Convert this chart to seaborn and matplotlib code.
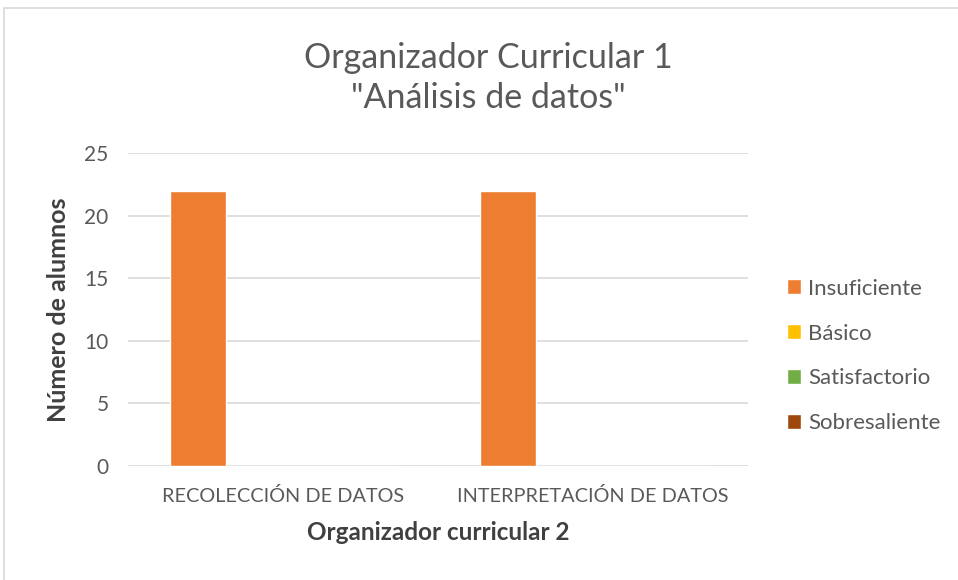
import matplotlib
matplotlib.use("Agg")
import matplotlib.pyplot as plt
import seaborn as sns
import pandas as pd
from matplotlib.patches import Rectangle

categories = ["RECOLECCIÓN DE DATOS", "INTERPRETACIÓN DE DATOS"]
series = ["Insuficiente", "Básico", "Satisfactorio", "Sobresaliente"]
values = {
    "Insuficiente": [22, 22],
    "Básico": [0, 0],
    "Satisfactorio": [0, 0],
    "Sobresaliente": [0, 0],
}
colors = ["#ED7D31", "#FFC000", "#70AD47", "#9E480E"]
yticks = [0, 5, 10, 15, 20, 25]

rows = []
for s in series:
    for c, v in zip(categories, values[s]):
        rows.append({"cat": c, "serie": s, "val": v})
df = pd.DataFrame(rows)

sns.set_theme(style="white")
plt.rcParams["font.family"] = ["Lato", "DejaVu Sans"]

fig = plt.figure(figsize=(9.58, 5.8), dpi=100)
ax = fig.add_axes([128/958, 1-466/580, (748-128)/958, (466-153)/580])

sns.barplot(data=df, x="cat", y="val", hue="serie", hue_order=series,
            order=categories, palette=colors, width=0.73, ax=ax,
            saturation=1, errorbar=None, legend=False)

ax.set_ylim(0, 25)
ax.set_xlim(-0.5, 1.5)
ax.set_yticks(yticks)
ax.set_yticklabels([str(t) for t in yticks], color="#595959", fontsize=15)
ax.tick_params(axis="x", colors="#595959", labelsize=14.3, length=0, pad=15)
ax.tick_params(axis="y", length=0, pad=14)
ax.yaxis.grid(True, color="#D9D9D9", lw=1.2)
ax.set_axisbelow(True)
for sp in ax.spines.values():
    sp.set_visible(False)

ax.set_xlabel("Organizador curricular 2", fontsize=17.5, fontweight="bold",
              color="#404040", labelpad=12)
ax.set_ylabel("Número de alumnos", fontsize=18, fontweight="bold",
              color="#404040", labelpad=10)

fig.text(488/958, 1-78/580, "Organizador Curricular 1\n\"Análisis de datos\"",
         ha="center", va="center", fontsize=24.5, color="#595959", linespacing=1.3)

handles = [Rectangle((0, 0), 1, 1, facecolor=c) for c in colors]
leg = fig.legend(handles, series, loc="center left",
                 bbox_to_anchor=(767/958, 1-356/580), frameon=False,
                 fontsize=16, labelcolor="#595959", handlelength=0.65,
                 handleheight=0.65, handletextpad=0.3, labelspacing=1.12)

border = Rectangle((4/958, -0.1), 1.1, 1-8/580+0.1, transform=fig.transFigure,
                   fill=False, edgecolor="#D9D9D9", lw=1.2)
fig.add_artist(border)

fig.savefig("out.png", dpi=100)
